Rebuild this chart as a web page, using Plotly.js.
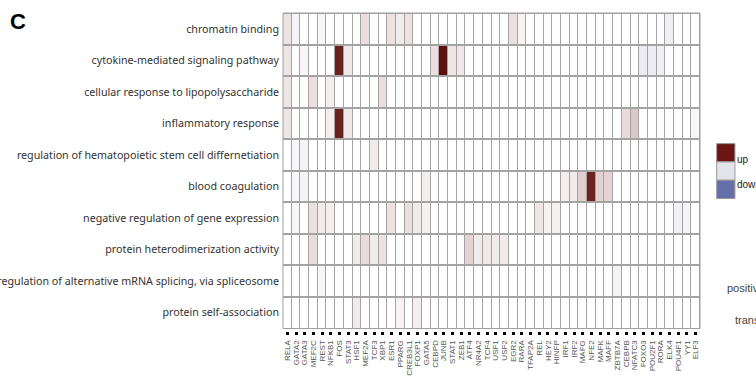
<!DOCTYPE html>
<html>
<head>
<meta charset="utf-8">
<script src="https://cdn.plot.ly/plotly-3.0.1.min.js"></script>
<style>
  html, body { margin: 0; padding: 0; background: #ffffff; }
  #chart { width: 756px; height: 383px; }
</style>
</head>
<body>
<div id="chart"></div>
<script>
// Transcription factors (columns)
const tfs = [
  'RELA', 'GATA2', 'GATA3', 'MEF2C', 'REST', 'NFKB1', 'FOS', 'STAT3', 'HSF1', 'MEF2A',
  'TCF3', 'XBP1', 'ESR1', 'PPARG', 'CREB3L1', 'FOXP1', 'GATA5', 'CEBPD', 'JUNB', 'STAT1',
  'ZEB1', 'ATF4', 'NR4A2', 'TCF4', 'USF1', 'USF2', 'EGR2', 'RARA', 'TFAP2A', 'REL',
  'HEY2', 'HINFP', 'IRF1', 'IRF2', 'MAFG', 'NFE2', 'MAFK', 'MAFF', 'ZBTB7A', 'CEBPB',
  'NFATC3', 'FOXO3', 'POU2F1', 'RORA', 'ELK4', 'POU4F1', 'YY1', 'ELF3'
];

// GO terms (rows, top to bottom)
const terms = [
  'chromatin binding',
  'cytokine-mediated signaling pathway',
  'cellular response to lipopolysaccharide',
  'inflammatory response',
  'regulation of hematopoietic stem cell differnetiation',
  'blood coagulation',
  'negative regulation of gene expression',
  'protein heterodimerization activity',
  'regulation of alternative mRNA splicing, via spliceosome',
  'protein self-association'
];

// Regulation score per term, one value per TF (positive = up, negative = down, 0 = none)
const chromatinBinding = [
  0.10, -0.04, 0, 0, 0.03, 0, 0, 0, 0, 0.12,
  0, 0, 0.10, 0.07, 0.10, 0, 0, 0, 0, 0,
  0, 0, 0, 0, 0, 0, 0.11, 0.04, 0, 0,
  0, 0, 0, 0, 0, 0, 0, 0, 0, 0,
  0, 0, 0, 0, -0.06, 0, 0, 0
];
const cytokineSignaling = [
  0.09, 0, -0.03, 0, 0, 0, 0.93, 0.08, 0, 0,
  0, 0, 0, 0, 0, 0, 0, 0.12, 1.00, 0.09,
  0.08, 0, 0, 0, 0, 0, 0, 0, 0, 0,
  0, 0, 0, 0, 0, 0, 0, 0, 0, 0,
  0, -0.07, -0.07, -0.06, 0, 0, 0, 0
];
const lpsResponse = [
  0.09, 0, 0, 0.12, 0, 0.06, 0, 0, 0, 0,
  0, 0.12, 0, 0, 0, 0, 0, 0, 0, 0,
  0, 0, 0, 0, 0, 0, 0, 0, 0, 0,
  0, 0, 0, 0, 0, 0, 0, 0, 0, 0,
  0, 0, 0, 0, 0, 0, 0, 0
];
const inflammatoryResponse = [
  0.09, 0, 0, 0, 0, 0.06, 0.93, 0.08, 0, 0,
  0, 0, 0, 0, 0, 0, 0, 0, 0, 0,
  0, 0, 0, 0, 0, 0, 0, 0, 0, 0,
  0, 0, 0, 0, 0, 0, 0, 0, 0, 0.14,
  0.24, 0, 0, 0, 0, 0, 0, -0.03
];
const hscDifferentiation = [
  0, -0.03, -0.04, 0, 0, 0, 0, 0, 0, 0,
  0.07, 0, 0, 0, 0, 0, 0, 0, 0, 0,
  0, 0, 0, 0, 0, 0, 0, 0, 0, 0,
  0, 0, 0, 0, 0, 0, 0, 0, 0, 0,
  0, 0, 0, 0, 0, 0, 0, 0
];
const bloodCoagulation = [
  0, -0.03, -0.04, 0, 0, 0, 0, 0, 0, 0,
  0, 0, 0, 0, 0, 0, 0.06, 0, 0, 0,
  0, 0, 0, 0, 0, 0, 0, 0, 0, 0,
  0, 0, 0.06, 0.07, 0.20, 0.92, 0.19, 0.18, 0, 0,
  0, 0, 0, 0, 0, 0, 0, 0
];
const negGeneExpression = [
  0, -0.03, 0, 0.11, 0.07, 0.06, 0, 0, 0, 0,
  0, 0, 0.10, 0, 0.11, 0.07, 0.05, 0, 0, 0,
  0, 0, 0, 0, 0, 0, 0, 0, 0, 0.09,
  0.04, 0.05, 0, 0, 0, 0, 0, 0, 0, 0,
  0, 0, 0, 0, 0, -0.05, -0.04, 0
];
const heterodimerization = [
  0, 0, 0, 0.13, 0, 0, 0, 0, 0.07, 0.13,
  0.07, 0.10, 0, 0, 0, 0, 0, 0, 0, 0,
  0, 0.18, 0.07, 0.08, 0.07, 0.07, 0, 0, 0, 0,
  0, 0, 0, 0, 0, 0, 0, 0, 0, 0,
  0, 0, 0, 0, 0, 0, 0, 0
];
const mrnaSplicing = [
  0, 0, 0, 0, -0.03, 0, 0, 0, 0, 0,
  0, 0, 0, 0, 0, 0, 0, 0, 0, 0,
  0, 0, 0, 0, 0, 0, 0, 0, 0, 0,
  0, 0, 0, 0, 0, 0, 0, 0, -0.04, 0,
  0, 0, 0, 0, 0, 0, 0, 0
];
const selfAssociation = [
  0, 0, 0, 0, 0, 0, 0, 0, 0.07, 0,
  0, 0, 0, 0.04, 0, 0.06, 0, 0, 0, 0,
  0, 0, 0, 0, 0, 0, 0, 0, 0, 0,
  0, 0, 0, 0, 0, 0, 0, 0, 0, 0,
  0, 0, 0, 0, 0, 0, 0, 0
];

// Legend key entries
const keyLabels = ['up', 'down'];
const keyColors = ['#6b1515', '#e3e3ea', '#6670a8'];

const zGrid = [
  chromatinBinding, cytokineSignaling, lpsResponse, inflammatoryResponse,
  hscDifferentiation, bloodCoagulation, negGeneExpression, heterodimerization,
  mrnaSplicing, selfAssociation
];

// Plot frame in pixels
const figW = 756, figH = 383;
const frameLeft = 282.5, frameRight = 700, frameTop = 12.5, frameBottom = 328.5, axisY = 331;
const frameW = frameRight - frameLeft, frameH = axisY - frameTop;
const toPaperX = x => (x - frameLeft) / frameW;
const toPaperY = y => (axisY - y) / frameH;

const heat = {
  type: 'heatmap',
  x: tfs,
  y: terms,
  z: zGrid,
  zmin: -1,
  zmax: 1,
  xgap: 1,
  ygap: 2,
  colorscale: [
    [0, '#6670a8'],
    [0.45, '#e4e4ec'],
    [0.5, '#ffffff'],
    [0.55, '#ece2e2'],
    [0.62, '#dcc7c7'],
    [1, '#5e1010']
  ],
  showscale: false,
  hoverinfo: 'x+y+z'
};

const shapes = [
  // frame around the grid
  {
    type: 'rect', xref: 'x domain', yref: 'y domain',
    x0: 0, x1: 1, y0: 0, y1: 1,
    line: { color: '#a0a0a0', width: 1 }, fillcolor: 'rgba(0,0,0,0)', layer: 'above'
  }
];

// colour key: three stacked swatches
const swX0 = 716.7, swX1 = 735, swTop = 143.3, swH = 18.35;
keyColors.forEach((c, i) => {
  shapes.push({
    type: 'rect', xref: 'paper', yref: 'paper',
    x0: toPaperX(swX0), x1: toPaperX(swX1),
    y0: toPaperY(swTop + (i + 1) * swH), y1: toPaperY(swTop + i * swH),
    fillcolor: c, line: { color: '#9a9a9a', width: 1 }
  });
});

const annotations = [
  {
    text: '<b>C</b>', xref: 'paper', yref: 'paper',
    x: toPaperX(7), y: toPaperY(21), xanchor: 'left', yanchor: 'middle',
    showarrow: false, font: { family: 'Liberation Sans, Arial', size: 22, color: '#000' }
  },
  {
    text: keyLabels[0], xref: 'paper', yref: 'paper',
    x: toPaperX(735.5), y: toPaperY(159.5), xanchor: 'left', yanchor: 'middle',
    showarrow: false, font: { family: 'Liberation Sans, Arial', size: 10, color: '#222' }
  },
  {
    text: keyLabels[1], xref: 'paper', yref: 'paper',
    x: toPaperX(735.5), y: toPaperY(184), xanchor: 'left', yanchor: 'middle',
    showarrow: false, font: { family: 'Liberation Sans, Arial', size: 10, color: '#222' }
  },
  {
    text: 'positive', xref: 'paper', yref: 'paper',
    x: toPaperX(725), y: toPaperY(288), xanchor: 'left', yanchor: 'middle',
    showarrow: false, font: { family: 'Liberation Sans, Arial', size: 11, color: '#444' }
  },
  {
    text: 'transcription', xref: 'paper', yref: 'paper',
    x: toPaperX(733), y: toPaperY(320), xanchor: 'left', yanchor: 'middle',
    showarrow: false, font: { family: 'Liberation Sans, Arial', size: 11, color: '#444' }
  }
];

const layout = {
  width: figW,
  height: figH,
  margin: { l: frameLeft, r: figW - frameRight, t: frameTop, b: figH - axisY, pad: 0 },
  paper_bgcolor: '#ffffff',
  plot_bgcolor: '#a3a3a3',
  showlegend: false,
  xaxis: {
    type: 'category',
    anchor: 'free',
    position: 0,
    tickmode: 'array',
    tickvals: tfs,
    ticktext: tfs,
    showgrid: false,
    zeroline: false,
    showline: false,
    ticks: 'outside',
    ticklen: 3,
    tickwidth: 3,
    tickcolor: '#000',
    tickangle: -90,
    ticklabelstandoff: 2,
    tickfont: { family: 'Liberation Sans, Arial', size: 8, color: '#555' },
    automargin: false,
    fixedrange: true
  },
  yaxis: {
    type: 'category',
    autorange: 'reversed',
    domain: [toPaperY(frameBottom), 1],
    tickmode: 'array',
    tickvals: terms,
    ticktext: terms,
    showgrid: false,
    zeroline: false,
    showline: false,
    ticks: '',
    ticklabelstandoff: 3,
    tickfont: { family: 'Noto Sans', size: 10.7, color: '#333' },
    automargin: false,
    fixedrange: true
  },
  shapes: shapes,
  annotations: annotations
};

Plotly.newPlot('chart', [heat], layout, { displayModeBar: false, staticPlot: true });
</script>
</body>
</html>
